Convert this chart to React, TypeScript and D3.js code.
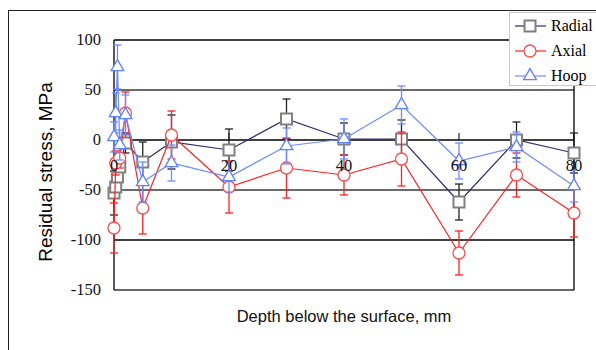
import React from 'react';
import * as d3 from 'd3';

// values (MPa vs mm)
const radialDepth = [0, 0.3, 0.6, 1, 2, 5, 10, 20, 30, 40, 50, 60, 70, 80];
const radialStress = [-53, -47, -37, -27, -3, -22, -2, -10, 21, 1, 1, -62, 0, -13];
const radialErr = [22, 10, 10, 10, 10, 20, 27, 21, 20, 16, 19, 18, 18, 20];

const axialDepth = [0, 0.3, 1, 2, 5, 10, 20, 30, 40, 50, 60, 70, 80];
const axialStress = [-88, -23, -18, 27, -68, 5, -47, -28, -35, -19, -113, -35, -73];
const axialErr = [25, 12, 10, 21, 26, 24, 26, 30, 20, 27, 22, 22, 24];

const hoopDepth = [0, 0.3, 0.6, 1, 2, 5, 10, 20, 30, 40, 50, 60, 70, 80];
const hoopStress = [3, 27, 73, -5, 25, -42, -23, -37, -6, 1, 35, -21, -7, -46];
const hoopErr = [15, 20, 22, 15, 20, 20, 18, 15, 18, 20, 19, 18, 15, 16];

const yTicks = [100, 50, 0, -50, -100, -150];
const xTicks = [0, 20, 40, 60, 80];

type Series = {
  name: string;
  depth: number[];
  stress: number[];
  err: number[];
  line: string;
  marker: string;
  errColor: string;
  shape: 'square' | 'circle' | 'triangle';
};

const series: Series[] = [
  { name: 'Radial', depth: radialDepth, stress: radialStress, err: radialErr, line: '#2e2e6e', marker: '#808080', errColor: '#222', shape: 'square' },
  { name: 'Axial', depth: axialDepth, stress: axialStress, err: axialErr, line: '#ff2020', marker: '#ff4a4a', errColor: '#ff2020', shape: 'circle' },
  { name: 'Hoop', depth: hoopDepth, stress: hoopStress, err: hoopErr, line: '#6d8cff', marker: '#5f80ff', errColor: '#6d8cff', shape: 'triangle' },
];

const serif = '"Liberation Serif", "DejaVu Serif", serif';
const sans = '"Liberation Sans", Arial, sans-serif';

const x = d3.scaleLinear().domain([0, 80]).range([114, 574]);
const y = d3.scaleLinear().domain([-150, 100]).range([290, 40]);

const squarePath = d3.symbol(d3.symbolSquare, 121)()!;
const trianglePath = d3.symbol(d3.symbolTriangle, 70)()!;

const Marker = ({ shape, color, cx, cy }: { shape: Series['shape']; color: string; cx: number; cy: number }) => {
  if (shape === 'circle') {
    return <circle cx={cx} cy={cy} r={6} fill="#fff" stroke={color} strokeWidth={1.3} />;
  }
  const d = shape === 'square' ? squarePath : trianglePath;
  return (
    <path
      d={d}
      transform={`translate(${cx},${cy})`}
      fill="#fff"
      stroke={color}
      strokeWidth={shape === 'square' ? 2 : 1.3}
    />
  );
};

export default function App() {
  const line = d3.line<[number, number]>()
    .x(d => x(d[0]))
    .y(d => y(d[1]));

  const gridStyle = (v: number) =>
    v === 50 || v === -50 || v === -150
      ? { stroke: '#6a6a6a', width: 2 }
      : { stroke: '#000', width: 1.3 };

  return (
    <svg
      width={596}
      height={350}
      style={{ position: 'absolute', left: 0, top: 0, background: '#fff' }}
    >
      {/* outer frame */}
      <rect x={8.5} y={10.5} width={620} height={400} fill="none" stroke="#222" strokeWidth={1} />

      {/* horizontal grid / plot box */}
      {yTicks.map(v => {
        const s = gridStyle(v);
        return (
          <line key={v} x1={x(0)} x2={x(80)} y1={y(v)} y2={y(v)} stroke={s.stroke} strokeWidth={s.width} />
        );
      })}
      <line x1={x(0)} x2={x(0)} y1={y(100)} y2={y(-150)} stroke="#000" strokeWidth={1.3} />
      <line x1={x(80)} x2={x(80)} y1={y(100)} y2={y(-150)} stroke="#000" strokeWidth={1.3} />

      {/* y tick labels */}
      {yTicks.map(v => (
        <text key={v} x={101} y={y(v) + 5} textAnchor="end" fontFamily={serif} fontSize={16.5} fill="#111">
          {v}
        </text>
      ))}

      {/* x axis ticks on the zero line */}
      {xTicks.map(v => (
        <line key={v} x1={x(v)} x2={x(v)} y1={y(0) - 7} y2={y(0)} stroke="#000" strokeWidth={1} />
      ))}

      {/* series */}
      {series.map(s => {
        const pts = s.depth.map((d, i) => [d, s.stress[i]] as [number, number]);
        return (
          <g key={s.name}>
            <path d={line(pts)!} fill="none" stroke={s.line} strokeWidth={1.2} />
            {pts.map(([d, v], i) => {
              const cx = x(d);
              const top = y(v + s.err[i]);
              const bot = y(v - s.err[i]);
              return (
                <g key={i} stroke={s.errColor} strokeWidth={1.3}>
                  <line x1={cx} x2={cx} y1={top} y2={bot} />
                  <line x1={cx - 4} x2={cx + 4} y1={top} y2={top} />
                  <line x1={cx - 4} x2={cx + 4} y1={bot} y2={bot} />
                </g>
              );
            })}
            {pts.map(([d, v], i) => (
              <Marker key={i} shape={s.shape} color={s.marker} cx={x(d)} cy={y(v)} />
            ))}
          </g>
        );
      })}

      {/* x tick labels, drawn over the data as in the original */}
      {xTicks.map(v => (
        <text key={v} x={x(v)} y={y(0) + 31} textAnchor="middle" fontFamily={serif} fontSize={16.5} fill="#111">
          {v}
        </text>
      ))}

      {/* axis titles */}
      <text
        transform={`translate(52,172) rotate(-90)`}
        textAnchor="middle"
        fontFamily={sans}
        fontSize={19}
        fill="#000"
      >
        Residual stress, MPa
      </text>
      <text x={344} y={322} textAnchor="middle" fontFamily={sans} fontSize={16.5} fill="#111">
        Depth below the surface, mm
      </text>

      {/* legend */}
      <g>
        <rect x={509.5} y={12.5} width={100} height={73} fill="#fff" stroke="#c8c8c8" strokeWidth={1} />
        {series.map((s, i) => {
          const ly = 26 + i * 25;
          return (
            <g key={s.name}>
              <line x1={515} x2={546} y1={ly} y2={ly} stroke={s.line} strokeWidth={1.2} />
              <Marker shape={s.shape} color={s.marker} cx={530} cy={ly} />
              <text x={551} y={ly + 5} fontFamily={serif} fontSize={16} fill="#000">
                {s.name}
              </text>
            </g>
          );
        })}
      </g>
    </svg>
  );
}
